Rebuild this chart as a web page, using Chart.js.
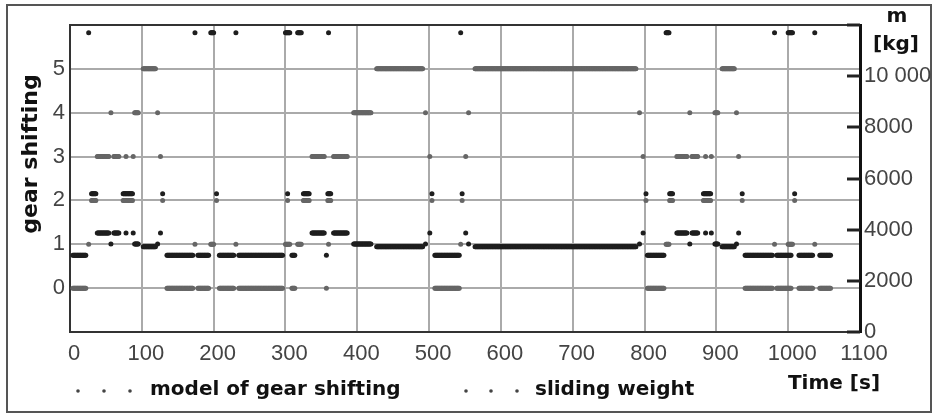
<!DOCTYPE html>
<html>
<head>
<meta charset="utf-8">
<script src="https://cdn.jsdelivr.net/npm/chart.js@4"></script>
<style>
  body { margin: 0; background: #fff; }
  canvas { display: block; }
</style>
</head>
<body>
<canvas id="chart" width="934" height="414"></canvas>
<script>
// Runs of constant gear: start [s], end [s], gear
const segStart = [4, 26, 30, 38, 57, 61, 74, 78, 88, 90, 102, 122, 126, 129, 135, 174, 178, 196, 204, 208,
  231, 235, 300, 303, 309, 317, 325, 337, 357, 360, 359, 367, 395, 427, 495, 501, 504, 508, 544, 546,
  551, 555, 564, 793, 798, 802, 804, 830, 835, 845, 863, 866, 882, 885, 893, 898, 908, 928, 931, 936,
  940, 981, 984, 1000, 1009, 1015, 1037, 1044];
const segEnd = [22, 26, 36, 54, 57, 68, 87, 78, 88, 95, 119, 122, 126, 129, 171, 174, 193, 200, 204, 228,
  231, 296, 306, 303, 313, 322, 333, 354, 357, 360, 363, 386, 419, 491, 495, 501, 504, 542, 544, 546,
  551, 555, 788, 793, 798, 802, 827, 834, 839, 859, 863, 874, 892, 885, 893, 902, 925, 928, 931, 936,
  978, 981, 1004, 1006, 1009, 1034, 1037, 1059];
const segGear = [0, 1, 2, 3, 4, 3, 2, 3, 3, 4, 5, 4, 3, 2, 0, 1, 0, 1, 2, 0,
  1, 0, 1, 2, 0, 1, 2, 3, 0, 1, 2, 3, 4, 5, 4, 3, 2, 0, 1, 2,
  3, 4, 5, 4, 3, 2, 0, 1, 2, 3, 4, 3, 2, 3, 3, 4, 5, 4, 3, 2,
  0, 1, 0, 1, 2, 0, 1, 0];
// sliding weight [kg] seen for each gear 0..5
const weightForGear = [3000, 11700, 5400, 3870, 3440, 3330];

const timeTicks = [0, 100, 200, 300, 400, 500, 600, 700, 800, 900, 1000, 1100];
const gearTicks = [0, 1, 2, 3, 4, 5];
const weightTicks = [0, 2000, 4000, 6000, 8000, 10000, 12000];
const weightTickLabels = ['0', '2000', '4000', '6000', '8000', '10 000', ''];

// one sample per second inside every run
const gearPoints = [];
const weightPoints = [];
segStart.forEach((start, i) => {
  for (let t = start; t <= segEnd[i]; t++) {
    gearPoints.push({ x: t, y: segGear[i] });
    weightPoints.push({ x: t, y: weightForGear[segGear[i]] });
  }
});

const tickFont = { family: "'Liberation Sans', Arial, sans-serif", size: 22 };
const boldFont = "bold 20px 'DejaVu Sans', sans-serif";

// frame, titles and the dotted legend
const decor = {
  id: 'decor',
  beforeDraw(chart) {
    const c = chart.ctx;
    c.save();
    c.fillStyle = '#fff';
    c.fillRect(0, 0, chart.width, chart.height);
    c.strokeStyle = '#555';
    c.lineWidth = 2;
    c.strokeRect(7, 5, 924, 407);
    c.restore();
  },
  afterDraw(chart) {
    const c = chart.ctx;
    const a = chart.chartArea;
    const y2 = chart.scales.y2;
    c.save();
    c.strokeStyle = '#333';
    c.lineWidth = 2;
    c.beginPath();
    c.moveTo(a.left, a.top);
    c.lineTo(a.right, a.top);
    c.stroke();

    // right axis ticks point inwards
    c.strokeStyle = '#222';
    c.lineWidth = 3;
    weightTicks.forEach(v => {
      const py = Math.round(y2.getPixelForValue(v));
      c.beginPath();
      c.moveTo(a.right - 13, py);
      c.lineTo(a.right, py);
      c.stroke();
    });

    c.fillStyle = '#111';
    c.font = boldFont;
    c.textBaseline = 'middle';
    c.textAlign = 'center';
    c.fillText('m', 897, 17);
    c.fillText('[kg]', 896, 45);
    c.fillText('Time [s]', 834, 384);

    c.save();
    c.translate(31, 154);
    c.rotate(-Math.PI / 2);
    c.font = "bold 22px 'DejaVu Sans', sans-serif";
    c.fillText('gear shifting', 0, 0);
    c.restore();

    c.textAlign = 'left';
    c.fillText('model of gear shifting', 150, 390);
    c.fillText('sliding weight', 535, 390);
    c.fillStyle = '#444';
    [78, 104, 130, 466, 491, 517].forEach(x => {
      c.beginPath();
      c.arc(x, 391, 1.8, 0, Math.PI * 2);
      c.fill();
    });
    c.restore();
  }
};

new Chart(document.getElementById('chart'), {
  type: 'scatter',
  data: {
    datasets: [{
      label: 'model of gear shifting',
      data: gearPoints,
      yAxisID: 'y',
      backgroundColor: '#666',
      pointRadius: 2.5,
      borderWidth: 0
    }, {
      label: 'sliding weight',
      data: weightPoints,
      yAxisID: 'y2',
      backgroundColor: '#1e1e1e',
      pointRadius: 2.5,
      borderWidth: 0
    }]
  },
  options: {
    responsive: false,
    animation: false,
    layout: { padding: { top: 25, left: 0, right: 0, bottom: 0 } },
    plugins: { legend: { display: false }, tooltip: { enabled: false } },
    scales: {
      x: {
        type: 'linear',
        min: 0,
        max: 1100,
        afterBuildTicks: s => { s.ticks = timeTicks.map(v => ({ value: v })); },
        afterFit: s => { s.height = 82; },
        grid: { color: '#aaa', lineWidth: 2, drawTicks: false },
        border: { color: '#333', width: 2 },
        ticks: {
          font: tickFont, color: '#444', padding: 9, labelOffset: 4,
          maxRotation: 0, autoSkip: false,
          callback: v => String(v)
        }
      },
      y: {
        position: 'left',
        min: -1,
        max: 6,
        afterBuildTicks: s => { s.ticks = gearTicks.map(v => ({ value: v })); },
        afterFit: s => { s.width = 70; },
        grid: { color: '#aaa', lineWidth: 2, drawTicks: false },
        border: { color: '#333', width: 2 },
        ticks: { font: tickFont, color: '#444', padding: 5, callback: v => String(v) }
      },
      y2: {
        position: 'right',
        min: 0,
        max: 12000,
        afterBuildTicks: s => { s.ticks = weightTicks.map(v => ({ value: v })); },
        afterFit: s => { s.width = 74; },
        grid: { drawOnChartArea: false, drawTicks: false },
        border: { color: '#111', width: 3 },
        ticks: {
          font: tickFont, color: '#444', padding: 4,
          callback: (v, i) => weightTickLabels[i]
        }
      }
    }
  },
  plugins: [decor]
});
</script>
</body>
</html>
